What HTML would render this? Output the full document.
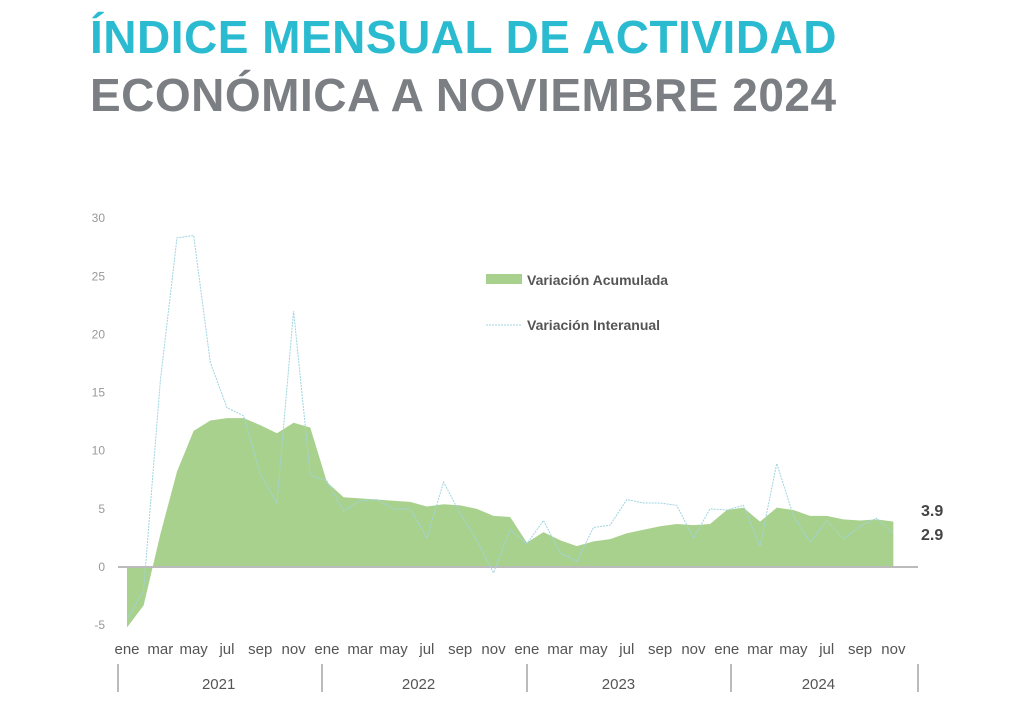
<!DOCTYPE html>
<html><head><meta charset="utf-8"><style>
body{margin:0;background:#fff;width:1024px;height:723px;overflow:hidden;font-family:"Liberation Sans",sans-serif}
.t{position:absolute;left:90px;font-weight:bold;font-size:46px;letter-spacing:0.5px;white-space:nowrap}
</style></head><body>
<div class="t" style="top:10px;color:#2bbbd0">ÍNDICE MENSUAL DE ACTIVIDAD</div>
<div class="t" style="top:68px;color:#7b7e82">ECONÓMICA A NOVIEMBRE 2024</div>
<svg id="c" width="1024" height="723" style="position:absolute;left:0;top:0"></svg>
<script>
const acum=[-5.2,-3.3,2.8,8.2,11.7,12.6,12.8,12.8,12.2,11.5,12.4,12.0,7.3,6.0,5.9,5.8,5.7,5.6,5.2,5.4,5.3,5.0,4.4,4.3,2.1,3.0,2.3,1.8,2.2,2.4,2.9,3.2,3.5,3.7,3.6,3.7,4.9,5.1,3.9,5.1,4.9,4.4,4.4,4.1,4.0,4.1,3.9];
const inter=[-4.5,-2.0,16,28.3,28.5,17.6,13.7,13.0,8.0,5.5,22.0,7.9,7.4,4.8,5.7,5.8,5.0,5.0,2.5,7.3,4.6,2.3,-0.5,3.2,2.0,4.0,1.2,0.5,3.4,3.6,5.8,5.5,5.5,5.3,2.5,5.0,4.9,5.3,1.8,8.9,4.4,2.1,4.0,2.4,3.5,4.2,2.9];
const months=["ene","feb","mar","abr","may","jun","jul","ago","sep","oct","nov","dic"];
const years=["2021","2022","2023","2024"];
const yTicks=[-5,0,5,10,15,20,25,30];
const svg=document.getElementById('c');const NS='http://www.w3.org/2000/svg';
const X=i=>127+i*16.66, Y=v=>567-v*11.63;
function mk(t,a,p){const e=document.createElementNS(NS,t);for(const k in a)e.setAttribute(k,a[k]);(p||svg).appendChild(e);return e;}
yTicks.forEach(v=>{const e=mk('text',{x:105,y:Y(v)+4,'text-anchor':'end','font-size':12,fill:'#999'});e.textContent=v;

});
let d='M'+X(0)+','+Y(0);acum.forEach((v,i)=>d+=' L'+X(i)+','+Y(v));d+=' L'+X(acum.length-1)+','+Y(0)+'Z';
const a=mk('path',{d:d,fill:'#a9d18e'});


const ax=mk('line',{x1:118,x2:918,y1:Y(0),y2:Y(0),stroke:'#bbb','stroke-width':2});


const l=mk('polyline',{points:inter.map((v,i)=>X(i)+','+Y(v)).join(' '),fill:'none',stroke:'#9fd4e0','stroke-width':1,'stroke-dasharray':'2,1'});


acum.forEach((v,i)=>{if(i%2==0){const e=mk('text',{x:X(i),y:654,'text-anchor':'middle','font-size':15,fill:'#555'});e.textContent=months[i%12];

}});
[118,322,527,731,918].forEach(x=>{const e=mk('line',{x1:x,x2:x,y1:664,y2:692,stroke:'#bbb','stroke-width':2});

});
years.forEach((y,k)=>{const e=mk('text',{x:X(k*12+5.5),y:689,'text-anchor':'middle','font-size':15,fill:'#555'});e.textContent=y;

});
const v1=mk('text',{x:921,y:516,'font-size':16,'font-weight':'bold',fill:'#444'});v1.textContent=acum[acum.length-1].toFixed(1);


const v2=mk('text',{x:921,y:540,'font-size':16,'font-weight':'bold',fill:'#444'});v2.textContent=inter[inter.length-1].toFixed(1);


const g=mk('g',{});


mk('rect',{x:486,y:274,width:36,height:10,fill:'#a9d18e'},g);
const t1=mk('text',{x:527,y:285,'font-size':14,'font-weight':'bold',fill:'#555'},g);t1.textContent='Variación Acumulada';


mk('line',{x1:486,x2:522,y1:325,y2:325,stroke:'#9fd4e0','stroke-dasharray':'2,1'},g);
const t2=mk('text',{x:527,y:330,'font-size':14,'font-weight':'bold',fill:'#555'},g);t2.textContent='Variación Interanual';


</script></body></html>
